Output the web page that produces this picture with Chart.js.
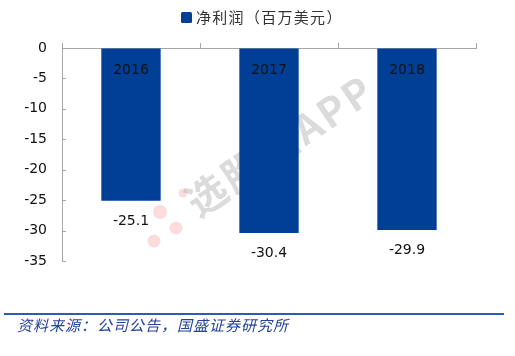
<!DOCTYPE html>
<html><head><meta charset="utf-8">
<script src="https://cdn.jsdelivr.net/npm/chart.js@4/dist/chart.umd.min.js"></script>
<style>html,body{margin:0;padding:0;background:#fff;}canvas{display:block;}</style>
</head><body>
<canvas id="c" width="515" height="356"></canvas>
<script>
const categories = ['2016', '2017', '2018'];
const netProfit = [-25.1, -30.4, -29.9];
const seriesName = '净利润（百万美元）';
const sourceText = '资料来源：公司公告，国盛证券研究所';
const watermark = '选股宝APP';

const BAR = '#003f95';
const AXIS = '#a6a6a6';
const NUMFONT = '14px "DejaVu Sans"';

const decor = {
  id: 'decor',
  beforeDatasetsDraw(chart) {
    const ctx = chart.ctx;
    ctx.save();
    ctx.fillStyle = 'rgba(240,110,110,0.25)';
    [[183,193,4.5],[160,212,7],[176,228,6.5],[154,241,6.5]].forEach(d=>{ctx.beginPath();ctx.arc(d[0],d[1],d[2],0,Math.PI*2);ctx.fill();});
    ctx.translate(190, 206);
    ctx.rotate(-34 * Math.PI / 180);
    ctx.font = 'bold 40px "Noto Sans CJK SC"';
    ctx.fillStyle = 'rgba(160,160,160,0.38)';
    ctx.textAlign = 'left';
    ctx.textBaseline = 'middle';
    ctx.letterSpacing = '3px';
    ctx.fillText(watermark, 0, 0);
    ctx.restore();
  },
  afterDatasetsDraw(chart) {
    const ctx = chart.ctx;
    const x = chart.scales.x, y = chart.scales.y;
    ctx.save();
    ctx.strokeStyle = AXIS; ctx.lineWidth = 1;
    y.ticks.forEach((t, i) => {
      const py = Math.round(y.getPixelForTick(i)) + 0.5;
      ctx.beginPath(); ctx.moveTo(y.right, py); ctx.lineTo(y.right + 4, py); ctx.stroke();
    });
    ctx.font = NUMFONT; ctx.fillStyle = '#111'; ctx.textAlign = 'center'; ctx.textBaseline = 'middle';
    const zero = y.getPixelForValue(0);
    categories.forEach((c, i) => ctx.fillText(c, x.getPixelForValue(i), zero + 22));
    const meta = chart.getDatasetMeta(0);
    meta.data.forEach((bar, i) => {
      ctx.fillText(netProfit[i].toFixed(1), bar.x, bar.y + 20.5);
    });
    ctx.restore();
  },
  afterDraw(chart) {
    const ctx = chart.ctx;
    ctx.save();
    ctx.fillStyle = BAR;
    ctx.beginPath(); ctx.roundRect(181, 12, 11, 11, 1.5); ctx.fill();
    ctx.font = '15px "Noto Sans CJK SC"';
    ctx.letterSpacing = '1.3px';
    ctx.fillStyle = '#333'; ctx.textAlign = 'left'; ctx.textBaseline = 'middle';
    ctx.fillText(seriesName, 196, 17.5);
    ctx.strokeStyle = '#2a5fae'; ctx.lineWidth = 2;
    ctx.beginPath(); ctx.moveTo(4, 314); ctx.lineTo(504, 314); ctx.stroke();
    ctx.font = 'italic 15px "Noto Sans CJK SC"';
    ctx.letterSpacing = '1px';
    ctx.fillStyle = '#24449a';
    ctx.fillText(sourceText, 17, 325);
    ctx.restore();
  }
};

new Chart(document.getElementById('c'), {
  type: 'bar',
  data: { labels: categories, datasets: [{ label: seriesName, data: netProfit, backgroundColor: BAR, borderWidth: 0, barPercentage: 0.43, categoryPercentage: 1 }] },
  options: {
    responsive: false, animation: false,
    layout: { padding: { top: 43, left: 0, right: 39, bottom: 95 } },
    plugins: { legend: { display: false }, tooltip: { enabled: false } },
    scales: {
      x: {
        position: 'top', offset: true,
        grid: { drawOnChartArea: false, drawTicks: true, tickLength: 5, color: AXIS, offset: true },
        border: { color: AXIS },
        ticks: { display: false },
        afterFit: s => { s.height = 5; }
      },
      y: {
        min: -35, max: 0,
        grid: { drawOnChartArea: false, drawTicks: false },
        border: { color: AXIS },
        ticks: { stepSize: 5, padding: 15, color: '#111', font: { family: 'DejaVu Sans', size: 14 } },
        afterFit: s => { s.width = 62; }
      }
    }
  },
  plugins: [decor]
});
</script>
</body></html>
